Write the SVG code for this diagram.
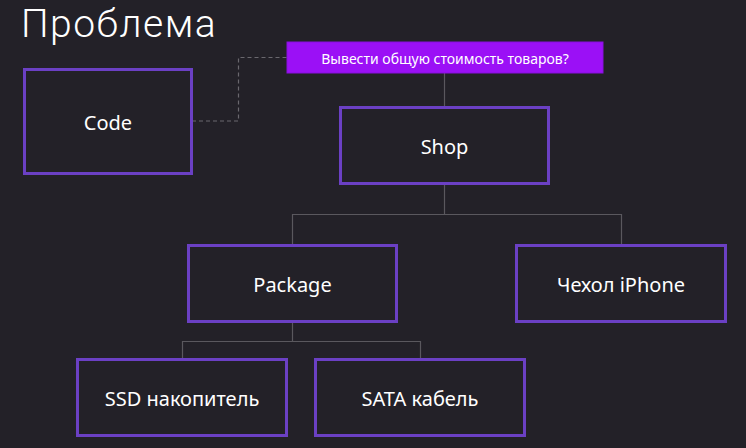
<svg xmlns="http://www.w3.org/2000/svg" width="746" height="448" viewBox="0 0 746 448">
<style>
.bg{fill:#232128}
.node rect{fill:#232128;stroke:#6b40c4;stroke-width:3}
.lbl{font-family:"Noto Sans","Open Sans",sans-serif;font-size:20px;fill:#ffffff;text-anchor:middle;dominant-baseline:central}
.conn{fill:none;stroke:#5a585e;stroke-width:1.2}
.dash{fill:none;stroke:#6a686e;stroke-width:1.2;stroke-dasharray:4 3}
</style>
<rect class="bg" x="0" y="0" width="746" height="448"/>
<text x="21" y="37" font-family="Roboto,'Open Sans',sans-serif" font-weight="300" font-size="39" letter-spacing="1.5" fill="#ffffff">Проблема</text>
<g id="connectors">
<path class="dash" d="M192,121 H238.5 V57.5 H287"/>
<path class="conn" d="M444.5,73 V107"/>
<path class="conn" d="M444.5,184 V214.5 M292.5,245 V214.5 H621.5 V245"/>
<path class="conn" d="M292.5,322 V341.5 M182.5,359 V341.5 H420.5 V359"/>
</g>
<g id="question">
<rect x="287" y="42" width="316" height="31" fill="#9b10f6" stroke="#8a0ee0" stroke-width="1"/>
<text x="445" y="58" font-family="'Noto Sans','Open Sans',sans-serif" font-size="14" fill="#ffffff" text-anchor="middle" dominant-baseline="central">Вывести общую стоимость товаров?</text>
</g>
<g id="code" class="node"><rect x="24.5" y="69.5" width="167" height="104"/><text class="lbl" x="108" y="122">Code</text></g>
<g id="shop" class="node"><rect x="340.5" y="107.5" width="208" height="76"/><text class="lbl" x="444.5" y="146">Shop</text></g>
<g id="package" class="node"><rect x="188.5" y="245.5" width="208" height="76"/><text class="lbl" x="292.5" y="284">Package</text></g>
<g id="case" class="node"><rect x="516.5" y="245.5" width="209" height="76"/><text class="lbl" x="621" y="284">Чехол iPhone</text></g>
<g id="ssd" class="node"><rect x="77.5" y="359.5" width="209" height="76"/><text class="lbl" x="182" y="398">SSD накопитель</text></g>
<g id="sata" class="node"><rect x="315.5" y="359.5" width="209" height="76"/><text class="lbl" x="420" y="398">SATA кабель</text></g>
</svg>
